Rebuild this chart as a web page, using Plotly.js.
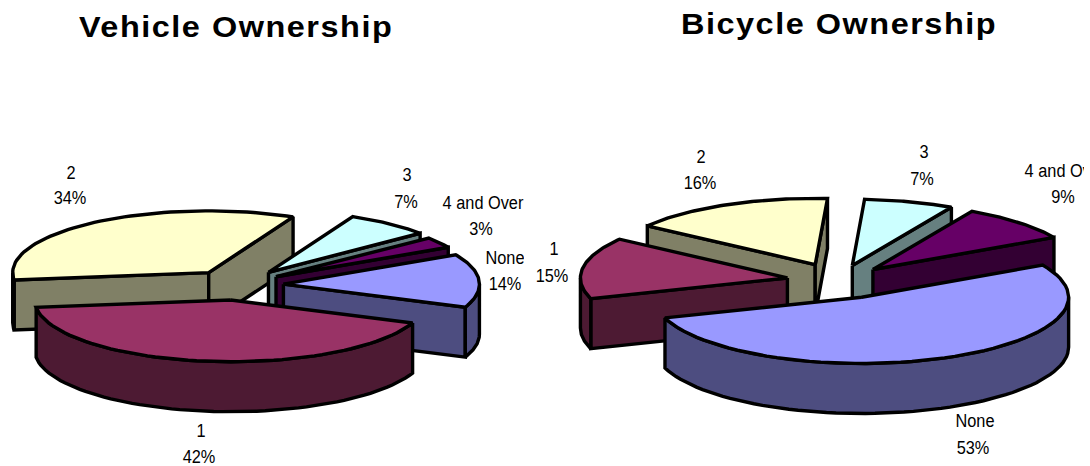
<!DOCTYPE html>
<html>
<head>
<meta charset="utf-8">
<script src="https://cdn.plot.ly/plotly-3.0.1.min.js"></script>
<style>
  html, body { margin: 0; padding: 0; background: #fff; }
  #chart { width: 1090px; height: 466px; }
  /* Slightly widened bold headings, tall condensed data labels */
  .annotation-text { letter-spacing: 1.35px; transform: scaleX(1.12); transform-box: fill-box; transform-origin: center; }
  .textpoint text { transform: scaleX(0.86); transform-box: fill-box; transform-origin: center; }
</style>
</head>
<body>
<div id="chart"></div>
<script>
// Household ownership shares, in percent
const categories = ['None', '1', '2', '3', '4 and Over'];
const vehicleShares = [14, 42, 34, 7, 3];
const bicycleShares = [53, 15, 16, 7, 9];
const chartTitles = ['Vehicle Ownership', 'Bicycle Ownership'];

// Slice colours, same order as the categories
const topColors = ['#9999FF', '#993366', '#FFFFCC', '#CCFFFF', '#660066'];
const wallColors = ['#4D4D80', '#4D1A33', '#808066', '#668080', '#330033'];

const DEPTH = 50;         // height of the disc
const OUTLINE = 3.4;

// Placement of each pie on its axes; squash is the foreshortening of the disc
const vehiclePie = {
  shares: vehicleShares, xaxis: 'x', yaxis: 'y', cx: 237, cy: 285, radius: 196, squash: 0.315, firstAngle: 61.5,
  explode: [46.5, 48, 48.5, 51, 47],
  drawOrder: [2, 3, 4, 0, 1],
  labelAt: [[505, 259], [201, 432], [71, 174], [407, 176], [483, 204]],
  pctAt: [[505, 285], [199, 458], [70, 199], [406, 203], [481, 230]],
  titleAt: [235.5, 27]
};
const bicyclePie = {
  shares: bicycleShares, xaxis: 'x2', yaxis: 'y2', cx: 838.8, cy: 280.5, radius: 207, squash: 0.32, firstAngle: 61,
  explode: [57, 52, 55, 49, 48.4],
  drawOrder: [2, 3, 4, 1, 0],
  labelAt: [[975, 422], [554, 250], [701, 158], [924, 153], [1065, 172]],
  pctAt: [[973, 449], [552, 277], [700, 184], [922, 180], [1063, 198]],
  titleAt: [839, 24]
};

const rad = d => d * Math.PI / 180;

function face(pie, xs, ys, color) {
  return {
    type: 'scatter', mode: 'lines', x: xs, y: ys, xaxis: pie.xaxis, yaxis: pie.yaxis,
    fill: 'toself', fillcolor: color, hoverinfo: 'skip', showlegend: false,
    line: { color: '#000', width: OUTLINE, shape: 'linear' }
  };
}

function sliceTraces(pie, i, from, to) {
  const mid = rad((from + to) / 2);
  const ax = pie.cx + pie.explode[i] * Math.sin(mid);
  const ay = pie.cy - pie.explode[i] * pie.squash * Math.cos(mid);
  const rim = a => [ax + pie.radius * Math.sin(rad(a)), ay - pie.radius * pie.squash * Math.cos(rad(a))];
  const out = [];

  // A radial wall shows only when it turns towards the viewer
  const radialWall = a => {
    const p = rim(a);
    out.push(face(pie, [ax, p[0], p[0], ax, ax], [ay, p[1], p[1] + DEPTH, ay + DEPTH, ay], wallColors[i]));
  };
  if (Math.sin(rad(from)) < 0) radialWall(from);
  if (Math.sin(rad(to)) > 0) radialWall(to);

  // Curved outer wall over the front half of the disc
  const lo = Math.max(from, 90), hi = Math.min(to, 270);
  if (lo < hi) {
    const xs = [], ys = [], back = [];
    for (let k = 0; k <= 60; k++) {
      const p = rim(lo + (hi - lo) * k / 60);
      xs.push(p[0]); ys.push(p[1]);
      back.unshift(p);
    }
    back.forEach(p => { xs.push(p[0]); ys.push(p[1] + DEPTH); });
    xs.push(xs[0]); ys.push(ys[0]);
    out.push(face(pie, xs, ys, wallColors[i]));
  }

  // Top of the slice
  const xs = [ax], ys = [ay];
  for (let k = 0; k <= 60; k++) {
    const p = rim(from + (to - from) * k / 60);
    xs.push(p[0]); ys.push(p[1]);
  }
  xs.push(ax); ys.push(ay);
  out.push(face(pie, xs, ys, topColors[i]));
  return out;
}

function pieTraces(pie) {
  const total = pie.shares.reduce((s, v) => s + v, 0);
  const spans = [];
  let angle = pie.firstAngle;
  pie.shares.forEach(v => {
    const next = angle + v / total * 360;
    spans.push([angle, next]);
    angle = next;
  });
  let traces = [];
  pie.drawOrder.forEach(i => {
    traces = traces.concat(sliceTraces(pie, i, spans[i][0], spans[i][1]));
  });
  // Category name and share, one text point each
  const text = [], tx = [], ty = [];
  categories.forEach((c, i) => {
    text.push(c, pie.shares[i] + '%');
    tx.push(pie.labelAt[i][0], pie.pctAt[i][0]);
    ty.push(pie.labelAt[i][1], pie.pctAt[i][1]);
  });
  traces.push({
    type: 'scatter', mode: 'text', x: tx, y: ty, text: text, xaxis: pie.xaxis, yaxis: pie.yaxis,
    textposition: 'middle center', cliponaxis: true, hoverinfo: 'skip', showlegend: false,
    textfont: { family: '"Liberation Sans", Arial, sans-serif', size: 19, color: '#000' }
  });
  return traces;
}

const hidden = { visible: false, fixedrange: true };
const layout = {
  width: 1090, height: 466, margin: { l: 0, r: 0, t: 0, b: 0 },
  paper_bgcolor: '#fff', plot_bgcolor: '#fff', showlegend: false,
  xaxis: Object.assign({}, hidden, { domain: [0, 524 / 1090], range: [0, 524] }),
  yaxis: Object.assign({}, hidden, { domain: [0, 1], range: [466, 0] }),
  xaxis2: Object.assign({}, hidden, { domain: [530 / 1090, 1084 / 1090], range: [530, 1084], anchor: 'y2' }),
  yaxis2: Object.assign({}, hidden, { domain: [0, 1], range: [466, 0], anchor: 'x2' }),
  annotations: [vehiclePie, bicyclePie].map((pie, i) => ({
    text: '<b>' + chartTitles[i] + '</b>', showarrow: false,
    xref: pie.xaxis, yref: pie.yaxis, x: pie.titleAt[0], y: pie.titleAt[1],
    xanchor: 'center', yanchor: 'middle',
    font: { family: '"Liberation Sans", Arial, sans-serif', size: 29, color: '#000' }
  }))
};

Plotly.newPlot('chart', pieTraces(vehiclePie).concat(pieTraces(bicyclePie)), layout, { displayModeBar: false, staticPlot: true });
</script>
</body>
</html>
